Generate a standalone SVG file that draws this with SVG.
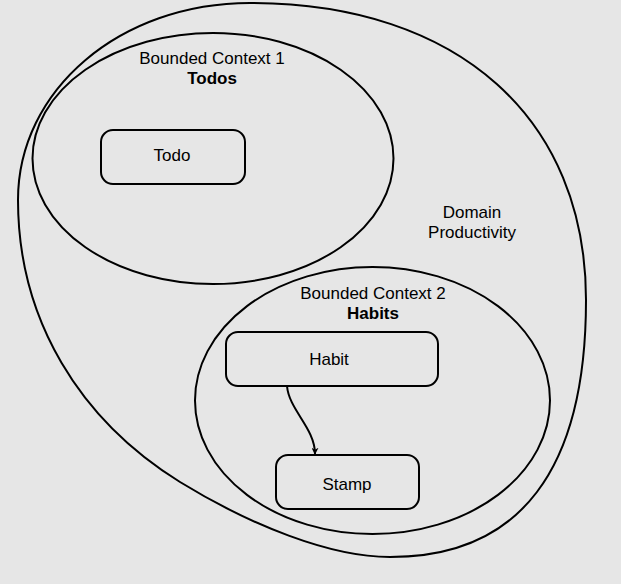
<svg xmlns="http://www.w3.org/2000/svg" width="621" height="584" viewBox="0 0 621 584">
<style>
.shape{fill:none;stroke:#000;stroke-width:2}
.box{fill:none;stroke:#000;stroke-width:2}
.t{font-family:"Liberation Sans",Arial,sans-serif;font-size:17px;fill:#000;text-anchor:middle}
.b{font-weight:bold}
.edge{fill:none;stroke:#000;stroke-width:2}
</style>
<defs>
<marker id="arr" viewBox="0 0 10 10" refX="9" refY="5" markerWidth="7" markerHeight="7" orient="auto" markerUnits="userSpaceOnUse">
<path d="M0,0 L10,5 L0,10 L3,5 Z" fill="#000"/>
</marker>
</defs>
<rect width="621" height="584" fill="#e6e6e6"/>
<g id="domain">
<path class="shape" d="M 250,3 C 460,3 586,120 586,300 C 586,470 520,557 390,557 C 330,557 250,525 180,482 C 80,420 18,320 18,200 C 18,90 120,3 250,3 Z"/>
<text class="t" x="472" y="218">Domain</text>
<text class="t" x="472" y="238">Productivity</text>
</g>
<g id="context1">
<ellipse class="shape" cx="213" cy="158.5" rx="180.5" ry="125.5"/>
<text class="t" x="212" y="64">Bounded Context 1</text>
<text class="t b" x="212" y="84">Todos</text>
</g>
<g id="todo">
<rect class="box" x="101" y="130" width="144" height="54" rx="12"/>
<text class="t" x="172" y="161">Todo</text>
</g>
<g id="context2">
<ellipse class="shape" cx="372.5" cy="400.5" rx="177.5" ry="133.5"/>
<text class="t" x="373" y="299">Bounded Context 2</text>
<text class="t b" x="373" y="319">Habits</text>
</g>
<g id="habit">
<rect class="box" x="226" y="332" width="212" height="54" rx="12"/>
<text class="t" x="329" y="365">Habit</text>
</g>
<g id="stamp">
<rect class="box" x="276" y="455" width="143" height="54" rx="12"/>
<text class="t" x="347" y="490">Stamp</text>
</g>
<g id="connectors">
<path class="edge" d="M 287,386 C 289,410 315,428 315,454" marker-end="url(#arr)"/>
</g>
</svg>
